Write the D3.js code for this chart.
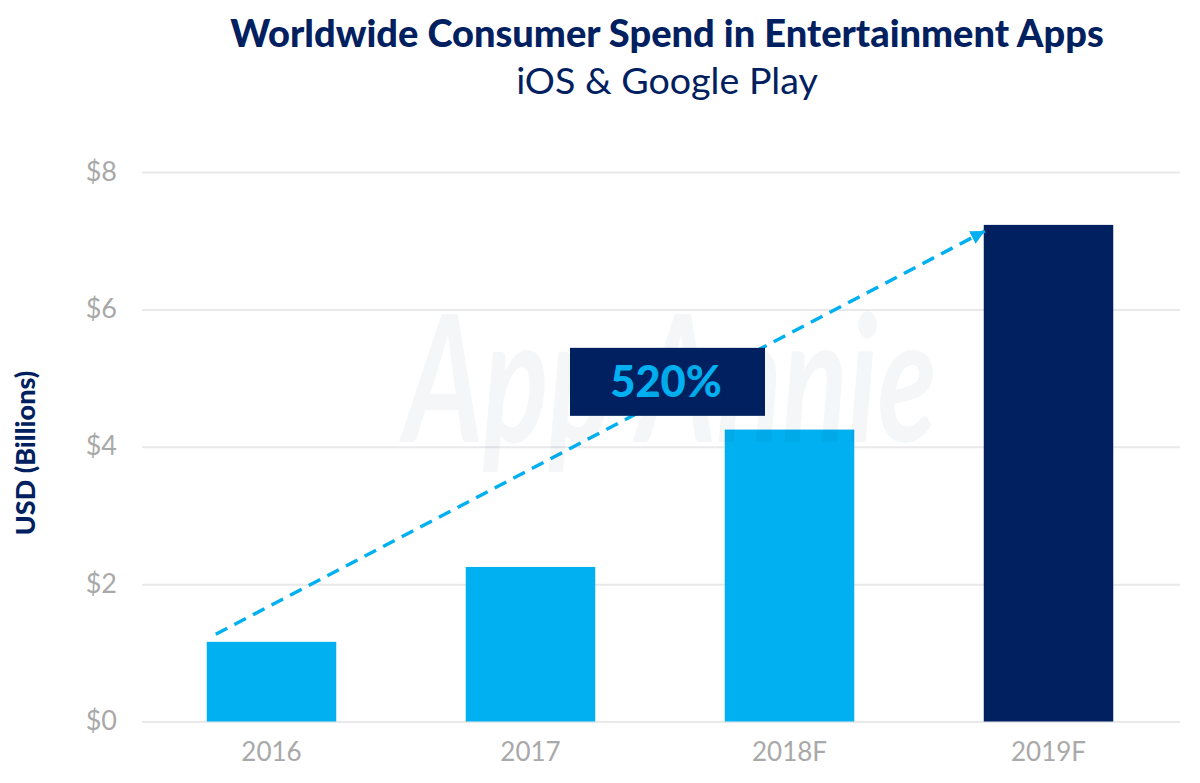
<!DOCTYPE html>
<html>
<head>
<meta charset="utf-8">
<script src="https://cdn.jsdelivr.net/npm/d3@7"></script>
<style>
    html, body { margin: 0; padding: 0; background: #fff; }
    svg { display: block; }
    text { font-family: "Lato", "Open Sans", sans-serif; }
</style>
</head>
<body>
<svg width="1200" height="783"></svg>
<script>
var years = ["2016", "2017", "2018F", "2019F"];
var spend = [1.16, 2.25, 4.25, 7.23];
var barColors = ["#00b0f0", "#00b0f0", "#00b0f0", "#012060"];
var yTicks = [0, 2, 4, 6, 8];

var titleMain = "Worldwide Consumer Spend in Entertainment Apps";
var titleSub = "iOS & Google Play";
var yAxisTitle = "USD (Billions)";
var growthLabel = "520%";
var watermark = "App Annie";

// start and end of the dashed growth arrow, in dollars
var arrowValues = [1.27, 7.14];
// top and bottom of the label box, in dollars
var boxValues = [5.44, 4.45];

var navy = "#012060", blue = "#00b0f0", gridGrey = "#e9e9ec", tickGrey = "#a9a9a9";

var svg = d3.select("svg");

var x = d3.scaleBand()
    .domain(years)
    .range([142, 1178])
    .paddingInner(0.5)
    .paddingOuter(0.25);

var y = d3.scaleLinear()
    .domain([0, 8])
    .range([721.5, 172]);

// Gridlines and dollar labels
var yAxis = svg.append("g")
    .attr("transform", "translate(142,0)")
    .call(d3.axisLeft(y)
        .tickValues(yTicks)
        .tickSize(-1038)
        .tickPadding(25)
        .tickFormat(function(d) { return "$" + d; }));
yAxis.select(".domain").remove();
yAxis.selectAll("line").attr("stroke", gridGrey).attr("stroke-width", 2);
yAxis.selectAll("text")
    .attr("fill", tickGrey)
    .attr("font-size", "27px")
    .style("font-family", "Lato")
    .attr("dy", "0.3em");

// Year labels
var xAxis = svg.append("g")
    .attr("transform", "translate(0,721.5)")
    .call(d3.axisBottom(x).tickSize(0).tickPadding(21));
xAxis.select(".domain").remove();
xAxis.selectAll("text")
    .attr("fill", tickGrey)
    .attr("font-size", "26px")
    .style("font-family", "Lato")
    .attr("dy", "0.7em");

// Bars
svg.append("g")
    .selectAll("rect")
    .data(spend)
    .enter().append("rect")
    .attr("x", function(d, i) { return x(years[i]); })
    .attr("y", function(d) { return y(d); })
    .attr("width", x.bandwidth())
    .attr("height", function(d) { return y(0) - y(d); })
    .attr("fill", function(d, i) { return barColors[i]; });

// Dashed growth arrow
svg.append("defs").append("marker")
    .attr("id", "head")
    .attr("viewBox", "0 0 10 10")
    .attr("refX", 10)
    .attr("refY", 5)
    .attr("markerUnits", "userSpaceOnUse")
    .attr("markerWidth", 14)
    .attr("markerHeight", 14)
    .attr("orient", "auto")
    .append("path")
    .attr("d", "M0,0L10,5L0,10Z")
    .attr("fill", blue);

svg.append("line")
    .attr("x1", x(years[0]) + 9)
    .attr("y1", y(arrowValues[0]))
    .attr("x2", x(years[3]) + 1)
    .attr("y2", y(arrowValues[1]))
    .attr("stroke", blue)
    .attr("stroke-width", 3.5)
    .attr("stroke-dasharray", "13 8")
    .attr("marker-end", "url(#head)");

// Growth label box
svg.append("rect")
    .attr("x", 570)
    .attr("y", y(boxValues[0]))
    .attr("width", 195)
    .attr("height", y(boxValues[1]) - y(boxValues[0]))
    .attr("fill", navy);

svg.append("text")
    .attr("x", 666)
    .attr("y", 397)
    .attr("text-anchor", "middle")
    .attr("font-size", "43.5px")
    .attr("font-weight", 900)
    .attr("fill", blue)
    .text(growthLabel);

// Watermark sits on top of everything, very faint
svg.append("text")
    .attr("transform", "translate(404,442) scale(1.03,1.5)")
    .attr("font-size", "118px")
    .attr("font-style", "italic")
    .attr("font-weight", 700)
    .attr("fill", "#0b2a5a")
    .attr("fill-opacity", 0.045)
    .text(watermark);

// Titles
svg.append("text")
    .attr("x", 667)
    .attr("y", 47)
    .attr("text-anchor", "middle")
    .attr("font-size", "38px")
    .attr("font-weight", 900)
    .attr("fill", navy)
    .text(titleMain);

svg.append("text")
    .attr("x", 667)
    .attr("y", 94)
    .attr("text-anchor", "middle")
    .attr("font-size", "37.6px")
    .attr("fill", navy)
    .text(titleSub);

svg.append("text")
    .attr("transform", "translate(35,453) rotate(-90)")
    .attr("text-anchor", "middle")
    .attr("font-size", "27px")
    .attr("font-weight", 900)
    .attr("fill", navy)
    .text(yAxisTitle);
</script>
</body>
</html>
